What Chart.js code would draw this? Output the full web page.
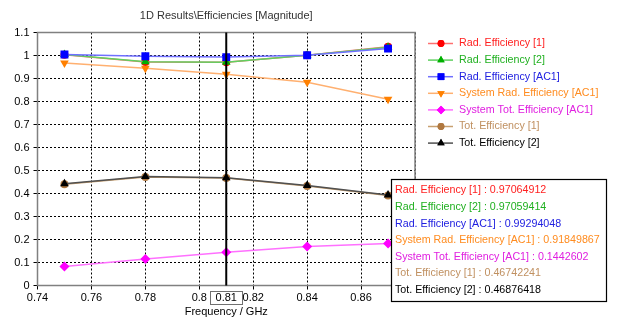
<!DOCTYPE html>
<html><head><meta charset="utf-8">
<script src="https://cdn.jsdelivr.net/npm/chart.js@4.4.1/dist/chart.umd.min.js"></script>
<style>html,body{margin:0;padding:0;background:#fff;overflow:hidden}
#wrap{position:relative;width:624px;height:325px}</style></head>
<body><div id="wrap"><canvas id="c" width="624" height="325"></canvas></div>
<script>
// ---- data ----
const chartTitle = "1D Results\\Efficiencies [Magnitude]";
const xAxisTitle = "Frequency / GHz";
const frequencies = [0.75, 0.78, 0.81, 0.84, 0.87];
const seriesNames = ["Rad. Efficiency [1]", "Rad. Efficiency [2]", "Rad. Efficiency [AC1]",
  "System Rad. Efficiency [AC1]", "System Tot. Efficiency [AC1]", "Tot. Efficiency [1]", "Tot. Efficiency [2]"];
const radEff1   = [1.003, 0.972, 0.97064912, 1.001, 1.038];
const radEff2   = [1.004, 0.973, 0.97059414, 1.001, 1.036];
const radEffAC1 = [1.004, 0.997, 0.99294048, 1.001, 1.030];
const sysRadEff = [0.967, 0.945, 0.91849867, 0.884, 0.810];
const sysTotEff = [0.083, 0.115, 0.1442602, 0.170, 0.183];
const totEff1   = [0.440, 0.472, 0.46742241, 0.433, 0.391];
const totEff2   = [0.442, 0.474, 0.46876418, 0.435, 0.393];
const cursorFreq = 0.81;
const cursorIndex = 2;
const xRange = [0.74, 0.88], xStep = 0.02;
const yRange = [0, 1.1], yStep = 0.1;

const seriesValues = [radEff1, radEff2, radEffAC1, sysRadEff, sysTotEff, totEff1, totEff2];
const markerColors = ['#ff0000', '#00b000', '#0000ff', '#ff8000', '#ff00ff', '#b07840', '#000000'];
const lineColors   = ['#ff7070', '#60d060', '#7070ff', '#ffb070', '#ff70ff', '#c8a070', '#505050'];
const textColors   = ['#ff2020', '#20b020', '#2020e0', '#ff8c20', '#e020e0', '#c09060', '#000000'];
const shapes   = ['circle', 'triangle', 'rect', 'triangle', 'rectRot', 'circle', 'triangle'];
const rotations = [0, 0, 0, 180, 0, 0, 0];
const radii    = [4, 5, 5.6, 5, 5, 4, 5];

const FONT = '"Liberation Sans", Arial, sans-serif';
const FS = 10.7;
const N = seriesValues.length;

const datasets = seriesValues.map((vals, i) => ({
  label: seriesNames[i],
  data: frequencies.map((x, k) => ({x: x, y: vals[k]})),
  borderColor: lineColors[i],
  backgroundColor: markerColors[i],
  pointBackgroundColor: markerColors[i],
  pointBorderColor: markerColors[i],
  pointBorderWidth: 0,
  pointStyle: shapes[i],
  pointRotation: rotations[i],
  pointRadius: radii[i],
  borderWidth: 1.5,
  tension: 0,
  order: N - 1 - i
}));

function drawMarker(ctx, shape, x, y, r, rot, color) {
  ctx.save();
  ctx.fillStyle = color; ctx.strokeStyle = color; ctx.lineWidth = 0;
  Chart.helpers.drawPoint(ctx, {pointStyle: shape, rotation: rot, radius: r, borderWidth: 0}, x, y);
  ctx.fill();
  ctx.restore();
}

const overlay = {
  id: 'overlay',
  beforeDraw(chart) {
    const ctx = chart.ctx;
    ctx.save(); ctx.fillStyle = '#fff'; ctx.fillRect(0, 0, chart.width, chart.height); ctx.restore();
  },
  beforeDatasetsDraw(chart) {
    const ctx = chart.ctx, a = chart.chartArea;
    ctx.save();
    ctx.strokeStyle = '#808080'; ctx.lineWidth = 1.5;
    ctx.strokeRect(a.left, a.top, a.right - a.left, a.bottom - a.top);
    ctx.restore();
  },
  afterDatasetsDraw(chart) {
    const ctx = chart.ctx, a = chart.chartArea;
    const xs = chart.scales.x.getPixelForValue(cursorFreq);
    ctx.save();
    ctx.strokeStyle = '#000'; ctx.lineWidth = 2;
    ctx.beginPath(); ctx.moveTo(xs, a.top); ctx.lineTo(xs, a.bottom); ctx.stroke();
    ctx.restore();
  },
  afterDraw(chart) {
    const ctx = chart.ctx, a = chart.chartArea;
    ctx.save();
    // title
    ctx.font = '11px ' + FONT; ctx.fillStyle = '#333'; ctx.textAlign = 'center'; ctx.textBaseline = 'middle';
    ctx.fillText(chartTitle, (a.left + a.right) / 2, 16);
    // cursor value box on x axis
    const xs = chart.scales.x.getPixelForValue(cursorFreq);
    ctx.fillStyle = '#fff'; ctx.fillRect(xs - 16, a.bottom + 5, 32, 13);
    ctx.strokeStyle = '#707070'; ctx.lineWidth = 1;
    ctx.strokeRect(Math.round(xs - 16) + 0.5, Math.round(a.bottom + 5) + 0.5, 32, 13);
    ctx.fillStyle = '#000';
    ctx.fillText(String(cursorFreq), xs, a.bottom + 12);
    // legend
    ctx.font = FS + 'px ' + FONT;
    ctx.textAlign = 'left';
    for (let i = 0; i < N; i++) {
      const y = 43.5 + i * 16.6;
      ctx.strokeStyle = lineColors[i]; ctx.lineWidth = 1.5;
      ctx.beginPath(); ctx.moveTo(428, y); ctx.lineTo(453, y); ctx.stroke();
      drawMarker(ctx, shapes[i], 441, y, radii[i] * 0.85, rotations[i], markerColors[i]);
      ctx.fillStyle = textColors[i];
      ctx.fillText(seriesNames[i], 459, y);
    }
    // cursor readout box
    ctx.fillStyle = '#fff'; ctx.fillRect(391, 179, 216, 123);
    ctx.strokeStyle = '#000'; ctx.lineWidth = 1.2;
    ctx.strokeRect(391.5, 179.5, 215, 122);
    for (let i = 0; i < N; i++) {
      const y = 190.5 + i * 16.6;
      ctx.fillStyle = textColors[i];
      ctx.fillText(seriesNames[i] + ' : ' + String(seriesValues[i][cursorIndex]), 395, y);
    }
    ctx.restore();
  }
};

new Chart(document.getElementById('c'), {
  type: 'line',
  data: {datasets: datasets},
  options: {
    responsive: false, animation: false, devicePixelRatio: 1,
    layout: {padding: {top: 32.5, right: 209, bottom: 0, left: 0}},
    plugins: {legend: {display: false}, tooltip: {enabled: false}, title: {display: false}},
    scales: {
      x: {
        type: 'linear', min: xRange[0], max: xRange[1],
        afterFit(s) { s.height = 39.5; },
        ticks: {stepSize: xStep, color: '#000', font: {family: FONT, size: 11}, padding: 2,
                callback: v => String(parseFloat(v.toFixed(2)))},
        grid: {color: '#000', lineWidth: 1, tickLength: 4, drawOnChartArea: true},
        border: {display: false, dash: [2, 2]},
        title: {display: true, text: xAxisTitle, color: '#000', font: {family: FONT, size: 11}, padding: {top: 0, bottom: 6}}
      },
      y: {
        min: yRange[0], max: yRange[1],
        afterFit(s) { s.width = 37.5; },
        ticks: {stepSize: yStep, color: '#000', font: {family: FONT, size: 11}, padding: 4,
                callback: v => String(parseFloat(v.toFixed(1)))},
        grid: {color: '#000', lineWidth: 1, tickLength: 4},
        border: {display: false, dash: [2, 2]}
      }
    }
  },
  plugins: [overlay]
});
</script></body></html>
